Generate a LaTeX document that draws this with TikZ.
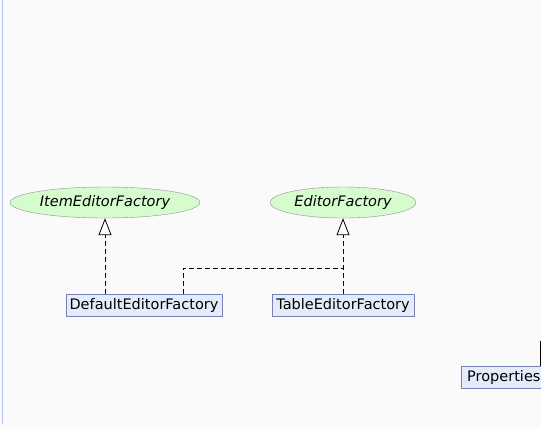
\documentclass[tikz,border=0pt]{standalone}
\usepackage{fontspec}
\setmainfont{DejaVu Sans}
\usetikzlibrary{arrows.meta,shapes.geometric,calc}
\definecolor{bgc}{HTML}{FAFAFA}
\definecolor{ifill}{HTML}{D6FCCE}
\definecolor{idraw}{HTML}{909098}
\definecolor{cfill}{HTML}{E4ECFC}
\definecolor{cdraw}{HTML}{7880B8}
\definecolor{lline}{HTML}{B4C0F4}
\tikzset{
  iface/.style={ellipse, draw=idraw, fill=ifill, inner sep=0pt, font=\fontsize{14.5}{16}\selectfont\itshape},
  cls/.style={rectangle, draw=cdraw, fill=cfill, inner sep=0pt, minimum height=22pt, font=\fontsize{14.5}{16}\selectfont},
  realize/.style={draw=black, dash pattern=on 5pt off 3pt, line width=0.8pt, -{Triangle[open, length=17pt, width=13pt, fill=white, line width=0.8pt]}},
  realizeline/.style={draw=black, dash pattern=on 5pt off 3pt, line width=0.8pt}
}
\begin{document}
\begin{tikzpicture}[x=1pt,y=-1pt]
\useasboundingbox[fill=bgc] (0,0) rectangle (541,429);
\draw[lline, line width=1pt] (2.5,0) -- (2.5,424);
\node[iface, minimum width=190pt, minimum height=31pt] (ie) at (105,202.5) {ItemEditorFactory};
\node[iface, minimum width=146pt, minimum height=31pt] (ef) at (343,202.5) {EditorFactory};
\node[cls, minimum width=156pt] (de) at (144,305) {DefaultEditorFactory};
\node[cls, minimum width=142pt] (te) at (343,305) {TableEditorFactory};
\begin{scope}
\clip (0,0) rectangle (541,429);
\node[cls, minimum width=90pt, text width=80pt, align=left, inner xsep=6pt, anchor=west] (pr) at (461,377.5) {Properties};
\end{scope}
\coordinate (dj) at (183,305);
\coordinate (j) at (343,268);
\coordinate (pt) at (540,341);
\draw[realize] (ie.south |- de.north) -- (ie.south);
\draw[realize] (te.north) -- (ef.south);
\draw[realizeline] (dj |- de.north) |- (j);
\draw[black, line width=0.8pt] (pt) -- (pt |- pr.north);
\end{tikzpicture}
\end{document}
